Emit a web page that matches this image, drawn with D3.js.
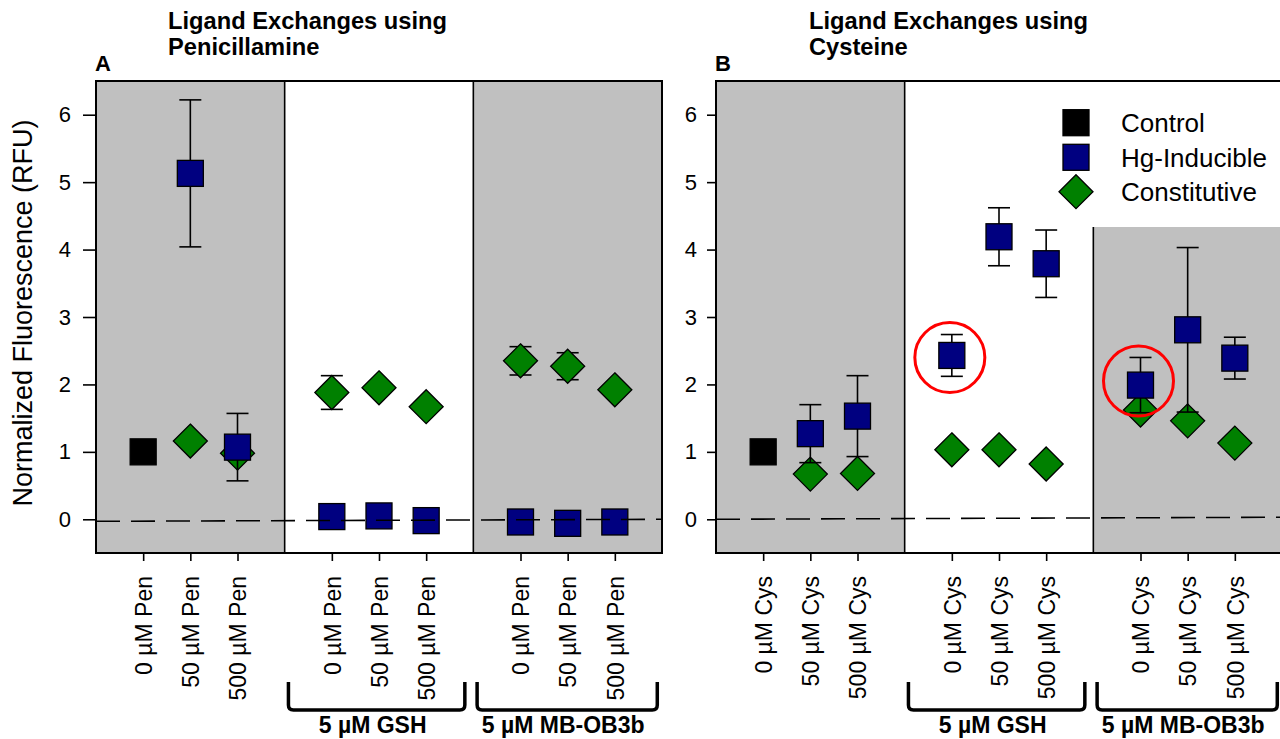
<!DOCTYPE html>
<html>
<head>
<meta charset="utf-8">
<script src="https://cdn.jsdelivr.net/npm/d3@7"></script>
<style>
  html, body { margin: 0; padding: 0; background: #fff; overflow: hidden; }
  svg { display: block; font-family: "Liberation Sans", Arial, Helvetica, sans-serif; }
</style>
</head>
<body>
<svg id="chart" width="1280" height="739"></svg>
<script>
// ---- data ----
// x slots of the nine treatments (gaps at 4 and 8 separate the three groups)
const slots = [1, 2, 3, 5, 6, 7, 9, 10, 11];
const penLabels = ["0 µM Pen", "50 µM Pen", "500 µM Pen", "0 µM Pen", "50 µM Pen", "500 µM Pen", "0 µM Pen", "50 µM Pen", "500 µM Pen"];
const cysLabels = ["0 µM Cys", "50 µM Cys", "500 µM Cys", "0 µM Cys", "50 µM Cys", "500 µM Cys", "0 µM Cys", "50 µM Cys", "500 µM Cys"];

// Penicillamine panel
const controlPen = 1.00;
const hgPen   = [null, 5.13, 1.07, 0.04, 0.05, -0.02, -0.04, -0.06, -0.04];
const hgPenSd = [null, 1.09, 0.50, 0, 0, 0, 0, 0, 0];
const conPen   = [null, 1.16, 0.98, 1.88, 1.95, 1.67, 2.35, 2.27, 1.92];
const conPenSd = [null, 0, 0, 0.25, 0, 0, 0.21, 0.20, 0];

// Cysteine panel
const controlCys = 1.00;
const hgCys   = [null, 1.27, 1.53, 2.43, 4.19, 3.79, 1.99, 2.81, 2.39];
const hgCysSd = [null, 0.43, 0.60, 0.31, 0.43, 0.50, 0.41, 1.22, 0.31];
const conCys   = [null, 0.67, 0.68, 1.03, 1.03, 0.82, 1.62, 1.46, 1.13];
const conCysSd = [null, 0, 0, 0, 0, 0, 0, 0, 0];

// circled Hg-inducible points in the cysteine panel: [treatment index, circle centre value]
const circledCys = [[3, 2.40], [6, 2.05]];

const groupLabels = ["5 µM GSH", "5 µM MB-OB3b"];
const groupSpans = [[4.08, 7.82], [8.08, 11.9]];
const shadedBands = [[0, 4], [8, 12]];
const yTicks = [0, 1, 2, 3, 4, 5, 6];
const legendNames = ["Control", "Hg-Inducible", "Constitutive"];

// ---- layout ----
const svg = d3.select("#chart");
const plotTop = 81, plotBottom = 553, plotW = 566;
const y = d3.scaleLinear().domain([-0.5, 6.5]).range([plotBottom, plotTop]);
const SQ = 26, DI = 17;
const colors = { control: "#000000", hg: "#000080", con: "#008000", band: "#c0c0c0" };
const diamondPath = `M0,${-DI}L${DI},0L0,${DI}L${-DI},0Z`;

function drawPanel(p) {
  const g = svg.append("g");
  const x = d3.scaleLinear().domain([0, 12]).range([p.left, p.left + plotW]);

  g.append("rect").attr("x", x(0)).attr("y", plotTop)
    .attr("width", x(12) - x(0)).attr("height", plotBottom - plotTop).attr("fill", "#fff");
  shadedBands.forEach(b => {
    g.append("rect").attr("x", x(b[0])).attr("y", plotTop)
      .attr("width", x(b[1]) - x(b[0])).attr("height", plotBottom - plotTop)
      .attr("fill", colors.band);
  });
  [4, 8].forEach(d => {
    g.append("line").attr("x1", x(d)).attr("x2", x(d))
      .attr("y1", plotTop).attr("y2", plotBottom)
      .attr("stroke", "#000").attr("stroke-width", 1.6);
  });

  if (p.legend) p.legend(g, x);

  const rows = slots.map((s, i) => ({
    s, hg: p.hg[i], hgSd: p.hgSd[i], con: p.con[i], conSd: p.conSd[i]
  }));

  function errorBars(key, sdKey) {
    rows.filter(r => r[key] != null && r[sdKey] > 0).forEach(r => {
      const cx = x(r.s), y1 = y(r[key] + r[sdKey]), y2 = y(r[key] - r[sdKey]);
      const eg = g.append("g").attr("stroke", "#000").attr("stroke-width", 1.6);
      eg.append("line").attr("x1", cx).attr("x2", cx).attr("y1", y1).attr("y2", y2);
      eg.append("line").attr("x1", cx - 11).attr("x2", cx + 11).attr("y1", y1).attr("y2", y1);
      eg.append("line").attr("x1", cx - 11).attr("x2", cx + 11).attr("y1", y2).attr("y2", y2);
    });
  }

  // constitutive
  errorBars("con", "conSd");
  g.selectAll(null).data(rows.filter(r => r.con != null)).join("path")
    .attr("d", diamondPath)
    .attr("transform", r => `translate(${x(r.s)},${y(r.con)})`)
    .attr("fill", colors.con).attr("stroke", "#000").attr("stroke-width", 1.3);

  // Hg-inducible
  errorBars("hg", "hgSd");
  g.selectAll(null).data(rows.filter(r => r.hg != null)).join("rect")
    .attr("x", r => x(r.s) - SQ / 2).attr("y", r => y(r.hg) - SQ / 2)
    .attr("width", SQ).attr("height", SQ)
    .attr("fill", colors.hg).attr("stroke", "#000").attr("stroke-width", 1.3);

  // control
  g.append("rect")
    .attr("x", x(slots[0]) - SQ / 2).attr("y", y(p.control) - SQ / 2)
    .attr("width", SQ).attr("height", SQ)
    .attr("fill", colors.control).attr("stroke", "#000").attr("stroke-width", 1.3);

  // zero reference line
  g.append("line")
    .attr("x1", x(0)).attr("x2", x(12))
    .attr("y1", y(p.zeroLine[0])).attr("y2", y(p.zeroLine[1]))
    .attr("stroke", "#000").attr("stroke-width", 1.6)
    .attr("stroke-dasharray", "24,11");

  if (p.circled) {
    p.circled.forEach(([i, v]) => {
      g.append("circle").attr("cx", x(slots[i]) - 2).attr("cy", y(v)).attr("r", 35)
        .attr("fill", "none").attr("stroke", "#ff0000").attr("stroke-width", 3);
    });
  }

  // frame
  g.append("rect").attr("x", x(0)).attr("y", plotTop)
    .attr("width", x(12) - x(0)).attr("height", plotBottom - plotTop)
    .attr("fill", "none").attr("stroke", "#000").attr("stroke-width", 2);

  // y axis
  const ya = g.append("g").attr("transform", `translate(${x(0)},0)`)
    .call(d3.axisLeft(y).tickValues(yTicks).tickFormat(d3.format("d"))
      .tickSize(p.yTick).tickPadding(p.yPad));
  ya.select(".domain").remove();
  ya.attr("font-size", null).attr("font-family", null);
  ya.selectAll(".tick line").attr("stroke-width", 1.6);
  ya.selectAll(".tick text").attr("font-size", 22);

  // x axis
  const xa = g.append("g").attr("transform", `translate(0,${plotBottom})`)
    .call(d3.axisBottom(x).tickValues(slots).tickFormat((d, i) => p.labels[i]).tickSize(8));
  xa.select(".domain").remove();
  xa.attr("font-size", null).attr("font-family", null);
  xa.selectAll(".tick line").attr("stroke-width", 1.6);
  xa.selectAll(".tick text")
    .attr("font-size", 23)
    .attr("transform", "rotate(-90)")
    .attr("text-anchor", "end")
    .attr("x", -23).attr("y", 0).attr("dy", "0.36em");

  // group brackets
  groupSpans.forEach((sp, i) => {
    const x1 = x(sp[0]), x2 = x(sp[1]), t = 682, b = 710, r = 5;
    g.append("path")
      .attr("d", `M${x1},${t}V${b - r}Q${x1},${b} ${x1 + r},${b}H${x2 - r}Q${x2},${b} ${x2},${b - r}V${t}`)
      .attr("fill", "none").attr("stroke", "#000").attr("stroke-width", 3.5);
    g.append("text")
      .attr("x", (x1 + x2) / 2 - 4).attr("y", 733)
      .attr("text-anchor", "middle").attr("font-size", 23).attr("font-weight", "bold")
      .text(groupLabels[i]);
  });

  // titles
  const tt = g.append("text").attr("font-size", 23.7).attr("font-weight", "bold");
  p.title.forEach((line, i) => {
    tt.append("tspan").attr("x", p.titleX).attr("y", 29 + i * 26).text(line);
  });
  g.append("text").attr("x", p.left - 1).attr("y", 71)
    .attr("font-size", 22).attr("font-weight", "bold").text(p.letter);
}

function drawLegend(g, x) {
  g.append("rect").attr("x", 1060).attr("y", 82).attr("width", 240).attr("height", 145).attr("fill", "#fff");
  const lx = 1076, ly = [122.7, 157.3, 191.7];
  g.append("rect").attr("x", lx - SQ / 2).attr("y", ly[0] - SQ / 2).attr("width", SQ).attr("height", SQ)
    .attr("fill", colors.control).attr("stroke", "#000").attr("stroke-width", 1.3);
  g.append("rect").attr("x", lx - SQ / 2).attr("y", ly[1] - SQ / 2).attr("width", SQ).attr("height", SQ)
    .attr("fill", colors.hg).attr("stroke", "#000").attr("stroke-width", 1.3);
  g.append("path").attr("d", diamondPath).attr("transform", `translate(${lx},${ly[2]})`)
    .attr("fill", colors.con).attr("stroke", "#000").attr("stroke-width", 1.3);
  legendNames.forEach((n, i) => {
    g.append("text").attr("x", 1121).attr("y", ly[i]).attr("dy", "0.36em")
      .attr("font-size", 26).text(n);
  });
}

drawPanel({
  left: 96, labels: penLabels, control: controlPen,
  hg: hgPen, hgSd: hgPenSd, con: conPen, conSd: conPenSd,
  zeroLine: [-0.03, 0.0], yTick: 13, yPad: 12,
  title: ["Ligand Exchanges using", "Penicillamine"], titleX: 168, letter: "A"
});
drawPanel({
  left: 716, labels: cysLabels, control: controlCys,
  hg: hgCys, hgSd: hgCysSd, con: conCys, conSd: conCysSd,
  zeroLine: [0.0, 0.03], yTick: 9, yPad: 10,
  title: ["Ligand Exchanges using", "Cysteine"], titleX: 809, letter: "B",
  circled: circledCys, legend: drawLegend
});

// y axis title
svg.append("text")
  .attr("transform", `translate(22,${(plotTop + plotBottom) / 2 - 4}) rotate(-90)`)
  .attr("text-anchor", "middle").attr("dy", "0.36em")
  .attr("font-size", 27)
  .text("Normalized Fluorescence (RFU)");
</script>
</body>
</html>
